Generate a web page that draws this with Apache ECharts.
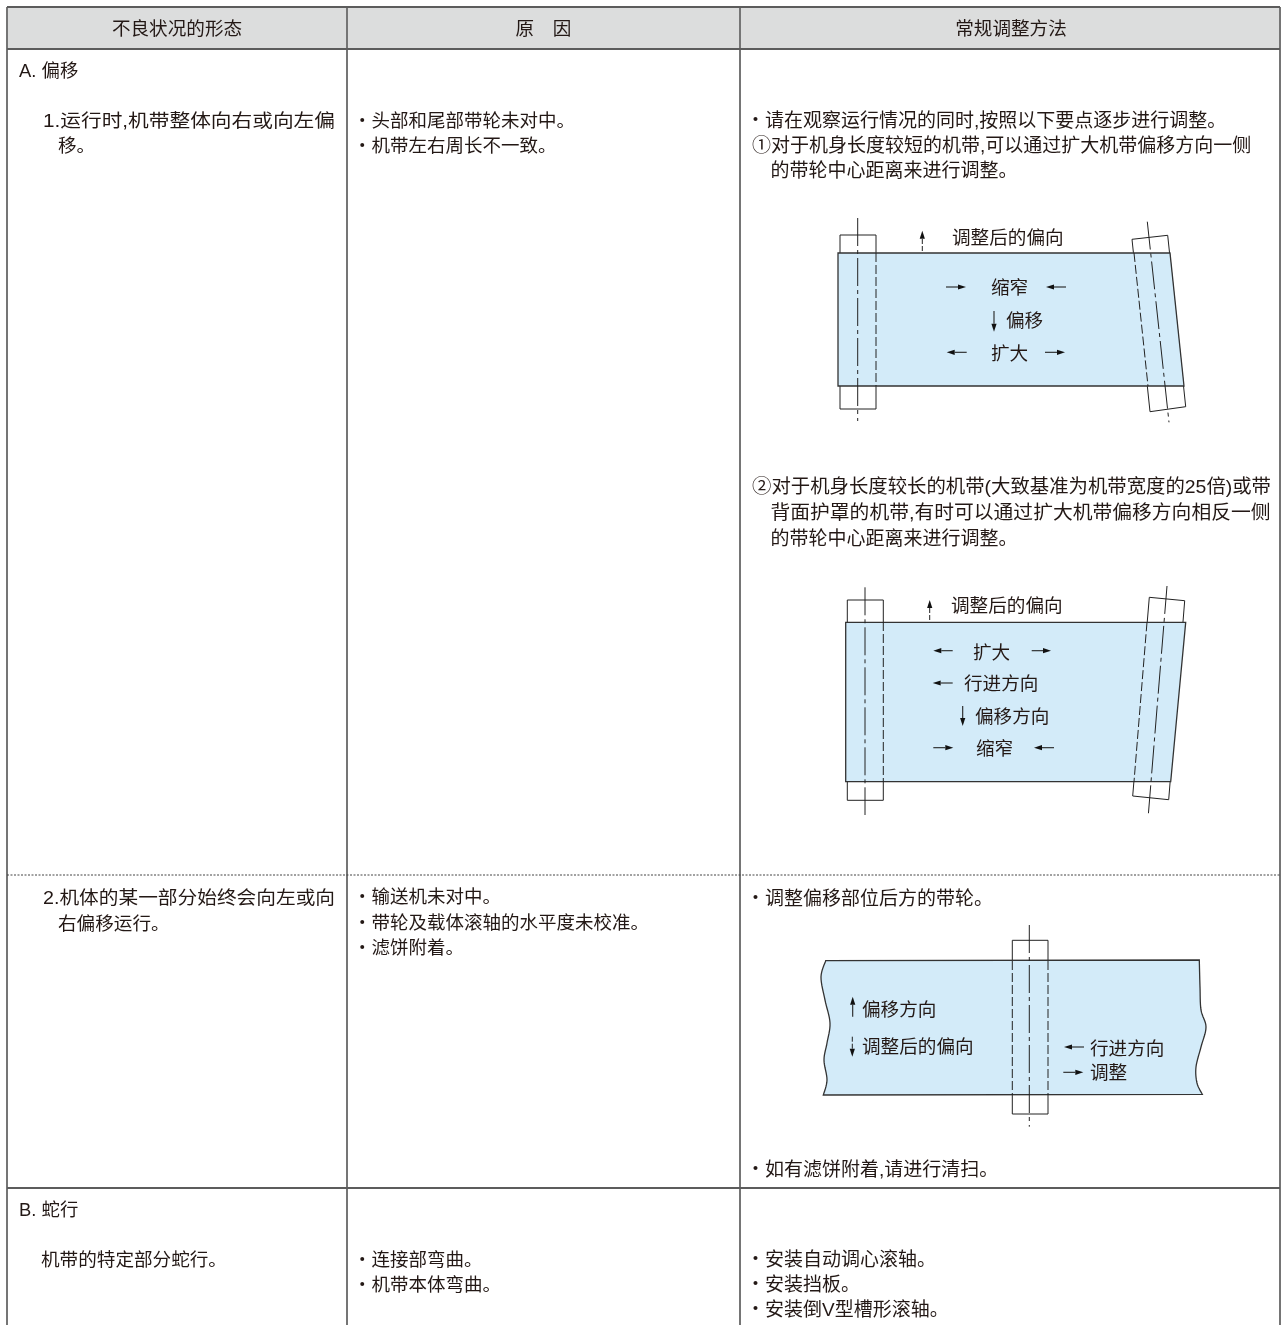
<!DOCTYPE html>
<html><head><meta charset="utf-8">
<script src="https://cdn.jsdelivr.net/npm/echarts@6/dist/echarts.min.js"></script>
<style>html,body{margin:0;padding:0;background:#fff}#c{width:1283px;height:1325px}</style></head>
<body><div id="c"></div>
<script>
// ---- text content ----
const headerLabels = ['不良状况的形态', '原　因', '常规调整方法'];
const sectionLabels = ['A. 偏移', 'B. 蛇行'];
const conditionLines = ['1.运行时,机带整体向右或向左偏', '移。', '2.机体的某一部分始终会向左或向', '右偏移运行。', '机带的特定部分蛇行。'];
const causeLines = ['・头部和尾部带轮未对中。', '・机带左右周长不一致。', '・输送机未对中。', '・带轮及载体滚轴的水平度未校准。', '・滤饼附着。', '・连接部弯曲。', '・机带本体弯曲。'];
const remedyLines = ['・请在观察运行情况的同时,按照以下要点逐步进行调整。', '①对于机身长度较短的机带,可以通过扩大机带偏移方向一侧', '的带轮中心距离来进行调整。', '②对于机身长度较长的机带(大致基准为机带宽度的25倍)或带', '背面护罩的机带,有时可以通过扩大机带偏移方向相反一侧', '的带轮中心距离来进行调整。', '・调整偏移部位后方的带轮。', '・如有滤饼附着,请进行清扫。', '・安装自动调心滚轴。', '・安装挡板。', '・安装倒V型槽形滚轴。'];
const diagram1Labels = ['调整后的偏向', '缩窄', '偏移', '扩大'];
const diagram2Labels = ['调整后的偏向', '扩大', '行进方向', '偏移方向', '缩窄'];
const diagram3Labels = ['偏移方向', '调整后的偏向', '行进方向', '调整'];

// ---- layout (separate from content) ----
const FONT = '"Liberation Sans","Noto Sans CJK SC",sans-serif';
const C = {vline:'#757575', hline:'#5c5c5c', ink:'#231815', belt:'#d3ebf9', head:'#dcdddd', thin:'#222222'};
const marks = [];
const poly = (pts, o) => marks.push(Object.assign({k:'poly', pts}, o));
const line = (pts, o) => marks.push(Object.assign({k:'line', pts, w:1, c:C.thin}, o));
const txt = (s, x, y, fs, a, tw) => marks.push({k:'text', s, x, y:y+1.7, fs, a:a||'left', tw});
const DASH = [9,3], DOTDASH = [28,4,4,4];
function arrow(x1, y1, x2, y2, dashed) {
  const L = Math.hypot(x2-x1, y2-y1), ux=(x2-x1)/L, uy=(y2-y1)/L, hl=8, hw=2.6;
  line([[x1,y1],[x2-ux*hl,y2-uy*hl]], dashed?{dash:[5,2]}:{w:1.1});
  poly([[x2,y2],[x2-ux*hl-uy*hw,y2-uy*hl+ux*hw],[x2-ux*hl+uy*hw,y2-uy*hl-ux*hw]], {fill:'#111'});
}
function spline(p) { // smooth an edge through its hand-read control points
  const out=[];
  for (let i=0;i<p.length-1;i++){
    const a=p[Math.max(i-1,0)], b=p[i], c=p[i+1], d=p[Math.min(i+2,p.length-1)];
    for (let j=0;j<8;j++){ const t=j/8,t2=t*t,t3=t2*t;
      const f=k=>0.5*(2*b[k]+(c[k]-a[k])*t+(2*a[k]-5*b[k]+4*c[k]-d[k])*t2+(3*b[k]-a[k]-3*c[k]+d[k])*t3);
      out.push([f(0),f(1)]);}
  }
  out.push(p[p.length-1]); return out;
}
// table background + rules
const T = {l:7, r:1280, t:7, hb:49, c1:347, c2:740, rowB:1188, dash:875, b:1325};
poly([[T.l,T.t],[T.r,T.t],[T.r,T.hb],[T.l,T.hb]], {fill:C.head});
[[T.l,T.t,T.l,T.b],[T.c1,T.t,T.c1,T.b],[T.c2,T.t,T.c2,T.b],[T.r,T.t,T.r,T.b]]
  .forEach(a=>line([[a[0],a[1]],[a[2],a[3]]],{w:2,c:C.vline}));
[[T.l,T.t,T.r,T.t],[T.l,T.hb,T.r,T.hb],[T.l,T.rowB,T.r,T.rowB]]
  .forEach(a=>line([[a[0],a[1]],[a[2],a[3]]],{w:2,c:C.hline}));
line([[T.l,T.dash],[T.r,T.dash]],{w:1,c:'#444',dash:[2,1.5]});

// header
const headerX = [177, 543.5, 1011];
headerLabels.forEach((s,i)=>txt(s, headerX[i], 28, 18.6, 'center'));
// column texts
const secPos=[[19,70.5],[19,1209.5]];
sectionLabels.forEach((s,i)=>txt(s,secPos[i][0],secPos[i][1],18.4));
const condPos=[[43,120,292],[58,145],[43,897,292],[58,923],[41,1259]];
conditionLines.forEach((s,i)=>txt(s,condPos[i][0],condPos[i][1],18.6,'left',condPos[i][2]));
const causeY=[120,145,896.5,922.5,947.5,1259,1284.5];
causeLines.forEach((s,i)=>txt(s,353,causeY[i],18.5));
const remedyPos=[[746,120],[752,145],[770.5,170],[752,486.5,519],[770.5,512.5,500],[770.5,538],[746,898.5],[746,1169.5],[746,1259],[746,1284.5],[746,1309.5]];
remedyLines.forEach((s,i)=>txt(s,remedyPos[i][0],remedyPos[i][1],19,'left',remedyPos[i][2]));

// diagram 1
function pulley(rect){ poly(rect,{stroke:C.thin,fill:'#fff'}); }
pulley([[840,235],[876,235],[876,409],[840,409]]);
pulley([[1132,239.3],[1167.7,235.3],[1185.7,406.7],[1150,411.7]]);
poly([[838,253],[1170,253],[1184,386],[838,386]],{fill:C.belt,stroke:'#333',lw:1.3});
line([[876,253],[876,386]],{dash:DASH});
line([[857.7,218],[857.7,421]],{dash:DOTDASH});
line([[1134,253],[1148,386]],{dash:DASH});
line([[1147.3,221.7],[1169,422.3]],{dash:DOTDASH});
const d1Pos=[[952,237.5],[991,287.5],[1006,320.5],[991,353.5]];
diagram1Labels.forEach((s,i)=>txt(s,d1Pos[i][0],d1Pos[i][1],18.6));
arrow(922.3,251,922.3,230.7,true);
arrow(946,287,966,287); arrow(1066,287,1046,287);
arrow(994,311,994,331.7);
arrow(966.7,352.3,946.7,352.3); arrow(1045,352.3,1065,352.3);

// diagram 2
pulley([[847.3,600],[883.3,600],[883.3,800.3],[847.3,800.3]]);
pulley([[1149.3,597.3],[1184.7,600.7],[1168.7,799.7],[1132.7,796]]);
poly([[845.7,622.3],[1185.7,622.3],[1170.7,781.7],[845.7,781.7]],{fill:C.belt,stroke:'#333',lw:1.3});
line([[883.3,622],[883.3,782]],{dash:DASH});
line([[865,587.3],[865,815]],{dash:DOTDASH});
line([[1147,622.3],[1134,781.7]],{dash:DASH});
line([[1167,586],[1148.3,815]],{dash:DOTDASH});
const d2Pos=[[951,605.5],[973,652],[964,683],[975,716.5],[976,748]];
diagram2Labels.forEach((s,i)=>txt(s,d2Pos[i][0],d2Pos[i][1],18.6));
arrow(929.7,620,929.7,600,true);
arrow(952.7,650.7,933.3,650.7); arrow(1031.7,650.7,1051,650.7);
arrow(952.7,683,932.7,683);
arrow(962.7,706,962.7,726);
arrow(933.3,747.7,953.3,747.7); arrow(1054,747.7,1034,747.7);

// diagram 3
pulley([[1012.3,940.3],[1048,940.3],[1048,1114],[1012.3,1114]]);
const leftEdge=spline([[825.7,960.7],[821,977],[825,1000],[830,1023],[827,1043],[824,1060],[827,1080],[823.3,1095]]);
const rightEdge=spline([[1202.3,1094.3],[1197,1083],[1196,1067],[1201,1047],[1206,1027],[1201,1010],[1200,987],[1199.3,960]]);
poly(leftEdge.concat(rightEdge),{fill:C.belt,stroke:'#333',lw:1.3});
line([[1012.3,961],[1012.3,1095]],{dash:DASH});
line([[1048,961],[1048,1095]],{dash:DASH});
line([[1029.3,925],[1029.3,1126.7]],{dash:DOTDASH});
const d3Pos=[[862,1009],[862,1046.5],[1090,1048.5],[1090,1072.5]];
diagram3Labels.forEach((s,i)=>txt(s,d3Pos[i][0],d3Pos[i][1],18.6));
arrow(852.7,1016.7,852.7,996.7);
arrow(852.3,1036.7,852.3,1056.7,true);
arrow(1084,1047,1064,1047);
arrow(1063.3,1072.3,1083.3,1072.3);

// ---- draw through a custom series on hidden value axes ----
const meter = document.createElement('canvas').getContext('2d');
function fitScale(m){
  if(!m.tw) return 1;
  meter.font = m.fs+'px '+FONT;
  return m.tw/meter.measureText(m.s).width;
}
function renderItem(params, api) {
  const m = marks[api.value(0)];
  if (m.k === 'text') {
    const p = api.coord([m.x, m.y]);
    return {type:'text', silent:true, x:p[0], y:p[1], scaleX:fitScale(m), style:{x:0, y:0, text:m.s, fill:C.ink, fontSize:m.fs, fontFamily:FONT, align:m.a, verticalAlign:'middle'}};
  }
  const pts = m.pts.map(q=>api.coord(q));
  if (m.k === 'line') return {type:'polyline', silent:true, shape:{points:pts}, style:{stroke:m.c, lineWidth:m.w, lineDash:m.dash||null, fill:null}};
  return {type:'polygon', silent:true, shape:{points:pts}, style:{fill:m.fill||null, stroke:m.stroke||null, lineWidth:m.lw||1}};
}
const chart = echarts.init(document.getElementById('c'), null, {width:1283, height:1325});
chart.setOption({
  animation:false, backgroundColor:'#fff',
  grid:{left:0,right:0,top:0,bottom:0},
  xAxis:{type:'value',min:0,max:1283,show:false},
  yAxis:{type:'value',min:0,max:1325,inverse:true,show:false},
  series:[{type:'custom', coordinateSystem:'cartesian2d', clip:false, silent:true, renderItem, encode:{x:0}, data:marks.map((_,i)=>[i])}]
});
</script></body></html>
